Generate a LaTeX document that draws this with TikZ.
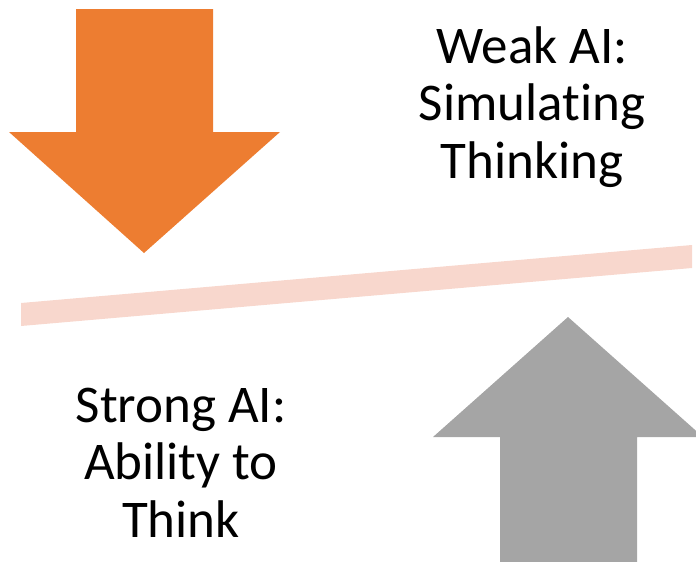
\documentclass[tikz,border=0pt]{standalone}
\usepackage{fontspec}
\setmainfont{Carlito}[RawFeature={-liga;-clig;-calt;-dlig}]
\usepackage{tikz}
\usetikzlibrary{positioning}
\definecolor{aiorange}{HTML}{ED7D31}
\definecolor{aigray}{HTML}{A5A5A5}
\definecolor{beampink}{HTML}{F8D7CD}
\tikzset{aitext/.style={align=center, inner sep=0pt, anchor=base, font=\fontsize{53}{57.5}\selectfont}}

\begin{document}
\begin{tikzpicture}[x=1pt,y=-1pt]
                 \useasboundingbox(0,0) rectangle (696,562);
                 \fill[aiorange](76,9)--(213,9)--(213,132)--(280,132)--(144,253)--(9,132)--(76,132)--cycle;
                 \fill[beampink](21,303)--(692,245)--(692,268)--(21,326)--cycle;
                 \fill[aigray](500,562)--(637,562)--(637,437)--(703,437)--(568,317)--(433,437)--(500,437)--cycle;
                 \node[aitext](weak)at(532,178){Weak AI:\\Simulating\\Thinking};
                 \node[aitext](strong)at(181,537){Strong AI:\\Ability to\\Think};
             \end{tikzpicture}
\end{document}
